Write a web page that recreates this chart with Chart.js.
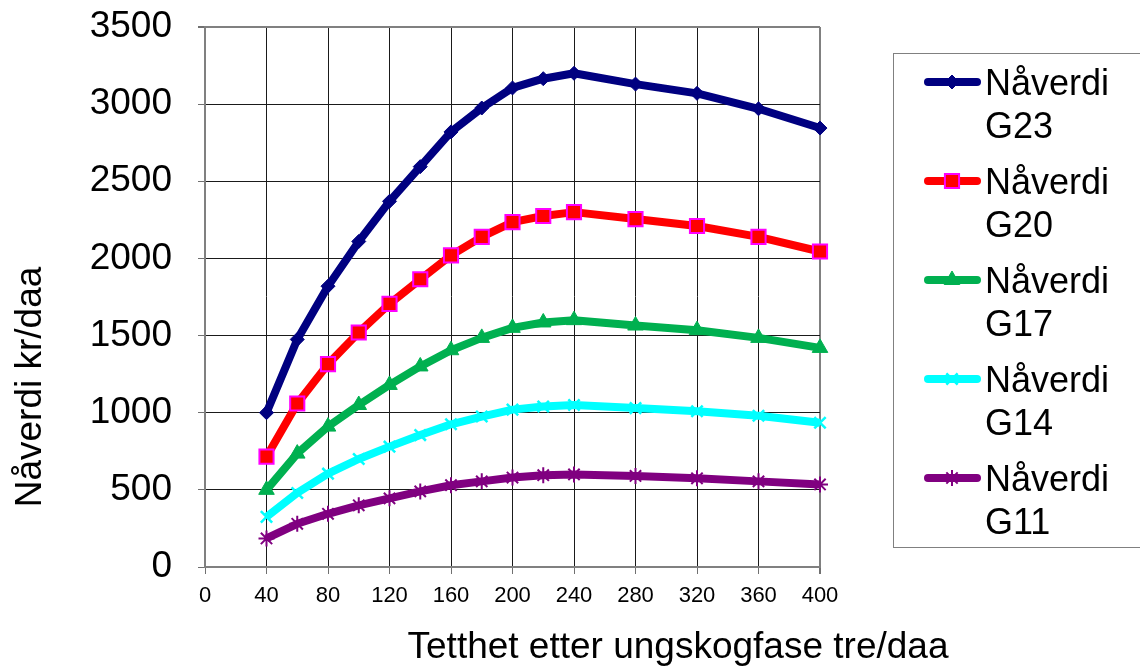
<!DOCTYPE html>
<html>
<head>
<meta charset="utf-8">
<script src="https://cdn.jsdelivr.net/npm/chart.js@4.4.1/dist/chart.umd.min.js"></script>
<style>
  html, body { margin: 0; padding: 0; background: #fff; }
  canvas { display: block; }
</style>
</head>
<body>
<canvas id="naverdiChart" width="1140" height="666"></canvas>
<script>
// tetthet (tre/daa) and naaverdi per bonitet
var tetthet = [40, 60, 80, 100, 120, 140, 160, 180, 200, 220, 240, 280, 320, 360, 400];
var g23 = [1000, 1475, 1820, 2110, 2370, 2595, 2820, 2975, 3105, 3165, 3200, 3130, 3070, 2970, 2845];
var g20 = [715, 1060, 1315, 1520, 1705, 1865, 2020, 2140, 2235, 2275, 2300, 2255, 2210, 2140, 2045];
var g17 = [500, 735, 910, 1050, 1180, 1300, 1405, 1485, 1550, 1585, 1600, 1565, 1535, 1485, 1420];
var g14 = [325, 480, 605, 700, 780, 855, 925, 975, 1020, 1040, 1050, 1030, 1010, 980, 935];
var g11 = [185, 280, 345, 400, 445, 490, 530, 555, 580, 595, 600, 590, 575, 555, 535];
var serieNavn = ['Nåverdi G23', 'Nåverdi G20', 'Nåverdi G17', 'Nåverdi G14', 'Nåverdi G11'];
var xTittel = 'Tetthet etter ungskogfase tre/daa';
var yTittel = 'Nåverdi kr/daa';

var FONT = '"Liberation Sans", Arial, sans-serif';
Chart.defaults.font.family = FONT;
Chart.defaults.color = '#000';

function punkter(verdier) {
  return tetthet.map(function (x, i) { return { x: x, y: verdier[i] }; });
}

function serie(label, verdier, farge, stil) {
  return Object.assign({
    label: label,
    data: punkter(verdier),
    borderColor: farge,
    backgroundColor: farge,
    borderWidth: 8,
    borderJoinStyle: 'round',
    tension: 0,
    clip: false,
    pointBackgroundColor: farge,
    pointBorderColor: farge,
    pointBorderWidth: 1,
    pointRadius: 7,
    pointHoverRadius: 7
  }, stil);
}

// legend + akse-titler tegnes for hand (flere linjer, ikke sentrert)
var egenLegende = {
  id: 'egenLegende',
  afterDraw: function (chart) {
    var ctx = chart.ctx;
    ctx.save();
    ctx.strokeStyle = '#808080';
    ctx.lineWidth = 1;
    ctx.strokeRect(893.5, 53.5, 260, 494);

    chart.data.datasets.forEach(function (ds, i) {
      var y = 82 + i * 99;
      ctx.strokeStyle = ds.borderColor;
      ctx.lineWidth = ds.borderWidth;
      ctx.lineCap = 'round';
      ctx.beginPath();
      ctx.moveTo(928, y);
      ctx.lineTo(977, y);
      ctx.stroke();

      ctx.fillStyle = ds.pointBackgroundColor;
      ctx.strokeStyle = ds.pointBorderColor;
      ctx.lineWidth = ds.pointBorderWidth;
      ctx.lineCap = 'butt';
      Chart.helpers.drawPoint(ctx, {
        pointStyle: ds.pointStyle || 'circle',
        radius: ds.pointRadius,
        borderWidth: ds.pointBorderWidth,
        rotation: 0
      }, 952, y);

      ctx.fillStyle = '#000';
      ctx.font = '36px ' + FONT;
      ctx.textAlign = 'left';
      ctx.textBaseline = 'alphabetic';
      var deler = ds.label.split(' ');
      ctx.fillText(deler[0], 985, y + 13);
      ctx.fillText(deler[1], 985, y + 56);
    });

    ctx.font = '37px ' + FONT;
    ctx.fillStyle = '#000';
    ctx.textAlign = 'center';
    ctx.textBaseline = 'alphabetic';
    ctx.fillText(xTittel, 678, 658);

    ctx.translate(41, 387);
    ctx.rotate(-Math.PI / 2);
    ctx.fillText(yTittel, 0, 0);
    ctx.restore();
  }
};

var naverdiChart = new Chart(document.getElementById('naverdiChart').getContext('2d'), {
  type: 'line',
  data: {
    datasets: [
      serie(serieNavn[0], g23, '#000080', { pointStyle: 'rectRot', pointRadius: 7 }),
      serie(serieNavn[1], g20, '#ff0000', { pointStyle: 'rect', pointRadius: 10, pointBorderColor: '#ff00ff', pointBorderWidth: 2 }),
      serie(serieNavn[2], g17, '#00b050', { pointStyle: 'triangle', pointRadius: 9 }),
      serie(serieNavn[3], g14, '#00ffff', { pointStyle: 'crossRot', pointRadius: 8, pointBorderWidth: 2.5 }),
      serie(serieNavn[4], g11, '#800080', { pointStyle: 'star', pointRadius: 8, pointBorderWidth: 2 })
    ]
  },
  options: {
    responsive: false,
    devicePixelRatio: 1,
    animation: false,
    events: [],
    layout: { padding: { top: 27, right: 320, left: 0, bottom: 0 } },
    plugins: {
      legend: { display: false },
      tooltip: { enabled: false }
    },
    scales: {
      x: {
        type: 'linear',
        min: 0,
        max: 400,
        ticks: { stepSize: 40, autoSkip: false, maxRotation: 0, padding: 9, font: { size: 22 }, color: '#000' },
        grid: {
          color: function (c) { return c.tick && c.tick.value === 400 ? '#808080' : '#1a1a1a'; },
          lineWidth: function (c) { return c.tick && c.tick.value === 400 ? 2 : 1; },
          tickLength: 7,
          tickColor: '#707070'
        },
        border: { display: true, color: '#808080', width: 2 },
        afterFit: function (s) { s.height = 99; s.paddingLeft = 0; s.paddingRight = 0; }
      },
      y: {
        min: 0,
        max: 3500,
        ticks: {
          stepSize: 500, padding: 26, font: { size: 37 }, color: '#000',
          callback: function (v) { return String(v); }
        },
        grid: {
          color: function (c) { return c.tick && c.tick.value === 3500 ? '#808080' : '#1a1a1a'; },
          lineWidth: function (c) { return c.tick && c.tick.value === 3500 ? 2 : 1; },
          tickLength: 7,
          tickColor: '#707070'
        },
        border: { display: true, color: '#808080', width: 2 },
        afterFit: function (s) { s.width = 205; s.paddingTop = 0; s.paddingBottom = 0; }
      }
    }
  },
  plugins: [egenLegende]
});
</script>
</body>
</html>
